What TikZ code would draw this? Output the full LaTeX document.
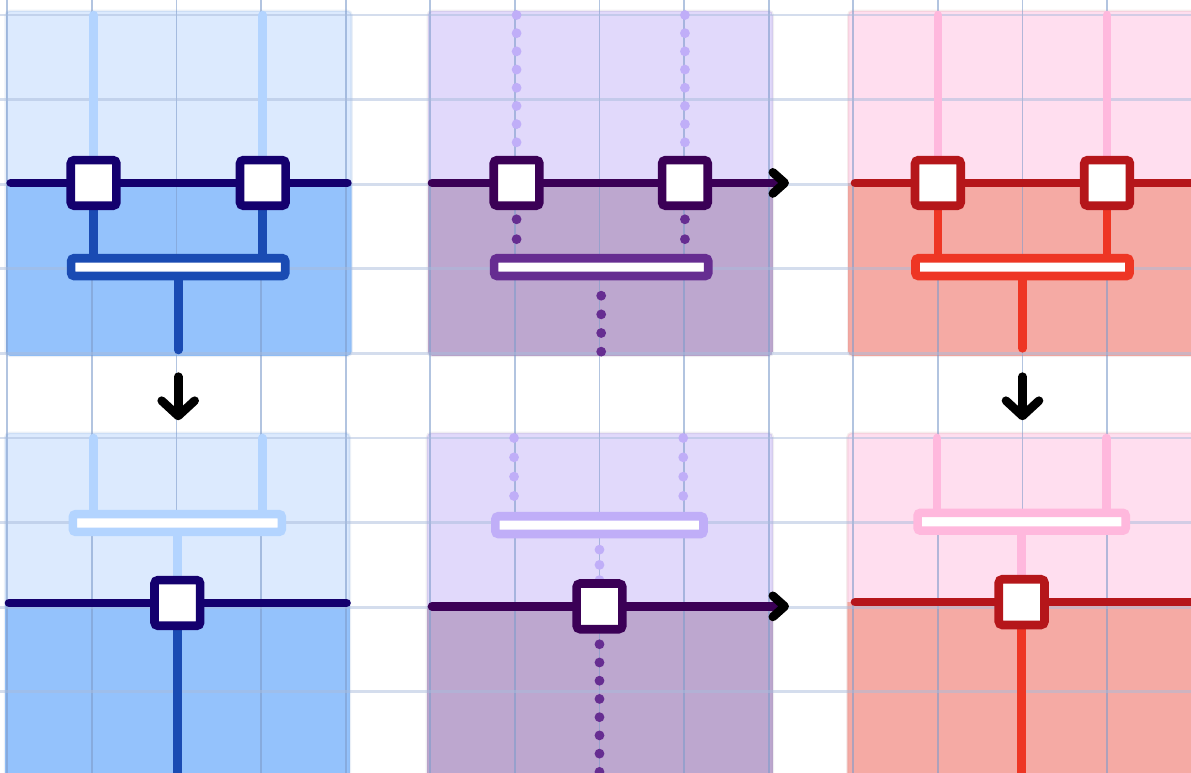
\documentclass[tikz,border=0pt]{standalone}
\usetikzlibrary{arrows.meta,calc}
\pgfdeclarelayer{bg}
\pgfsetlayers{bg,main}
% blue
\definecolor{bPL}{HTML}{DCEAFE}
\definecolor{bPD}{HTML}{94C2FC}
\definecolor{bU}{HTML}{B3D4FF}
\definecolor{bD}{HTML}{1A4BB3}
\definecolor{bW}{HTML}{14006E}
% purple
\definecolor{pPL}{HTML}{E1D9FB}
\definecolor{pPD}{HTML}{BDA7CF}
\definecolor{pU}{HTML}{C0AEF8}
\definecolor{pD}{HTML}{662D91}
\definecolor{pW}{HTML}{3B0056}
% red
\definecolor{rPL}{HTML}{FFDEEF}
\definecolor{rPD}{HTML}{F5AAA4}
\definecolor{rU}{HTML}{FFB8DD}
\definecolor{rD}{HTML}{EE3624}
\definecolor{rW}{HTML}{B5161A}
% grid
\definecolor{gridV}{HTML}{7F9CCB}
\definecolor{gridH}{HTML}{A9BCDC}
\tikzset{
  ln/.style={line width=2.9pt, line cap=round},
  sq/.style={draw, line width=2.9pt, fill=white, minimum width=0.54cm, minimum height=0.54cm, inner sep=0pt, rounded corners=1.2pt},
  barbox/.style={draw, line width=2.9pt, fill=white, minimum height=0.21cm, inner sep=0pt, rounded corners=1pt},
  dotln/.style={line width=3.3pt, line cap=round, dash pattern=on 0pt off #1},
  downflow/.style={line width=2.9pt, line cap=round, -{Straight Barb[length=1.8mm,width=3.9mm,round]}},
  rightflow/.style={-{Straight Barb[length=1.4mm,width=2.5mm,round,color=black]}},
  gv/.style={gridV, line width=0.6pt, opacity=0.6},
  gh/.style={gridH, line width=0.9pt, opacity=0.5},
  pborder/.style={rounded corners=1.5pt, line width=0.8pt, draw opacity=0.15},
}
% panel: x1 x2 ytop ysplit ybot light dark
\newcommand{\mypanel}[7]{%
  \begin{scope}
    \clip[rounded corners=1.5pt] (#1,#3) rectangle (#2,#5);
    \fill[#6] (#1,#3) rectangle (#2,#4);
    \fill[#7] (#1,#4) rectangle (#2,#5);
  \end{scope}
  \draw[pborder, draw=#7!80!black] (#1,#3) rectangle (#2,#5);
}
\begin{document}
\begin{tikzpicture}
\useasboundingbox (-0.0863,0.1773) rectangle (13.992,-8.960);

% ================= nodes (main layer) =================
% top blue
\node[sq, draw=bW] (b1) at (1.02,-1.985) {};
\node[sq, draw=bW] (b2) at (3.02,-1.985) {};
\node[barbox, draw=bD, minimum width=2.53cm] (bb) at (2.02,-2.98) {};
% bottom blue
\node[barbox, draw=bU, minimum width=2.47cm] (bb2) at (2.01,-6.005) {};
\node[sq, draw=bW] (b3) at (2.01,-6.95) {};
% top purple
\node[sq, draw=pW] (p1) at (6.02,-1.985) {};
\node[sq, draw=pW] (p2) at (8.01,-1.985) {};
\node[barbox, draw=pD, minimum width=2.53cm] (pb) at (7.02,-2.98) {};
% bottom purple
\node[barbox, draw=pU, minimum width=2.46cm] (pb2) at (7.0,-6.03) {};
\node[sq, draw=pW] (p3) at (7.0,-6.99) {};
% top red
\node[sq, draw=rW] (r1) at (11.0,-1.985) {};
\node[sq, draw=rW] (r2) at (13.0,-1.985) {};
\node[barbox, draw=rD, minimum width=2.53cm] (rb) at (12.0,-2.98) {};
% bottom red
\node[barbox, draw=rU, minimum width=2.46cm] (rb2) at (11.99,-5.99) {};
\node[sq, draw=rW] (r3) at (11.99,-6.94) {};

% free ends
\coordinate (bwl) at (0.04,-1.985);  \coordinate (bwr) at (4.02,-1.985);
\coordinate (bu1) at (1.02,0);       \coordinate (bu2) at (3.02,0);
\coordinate (bdn) at (2.02,-3.96);
\coordinate (ba1) at (2.02,-4.275);  \coordinate (ba2) at (2.02,-4.79);
\coordinate (bwl2) at (0.02,-6.95);  \coordinate (bwr2) at (4.01,-6.95);
\coordinate (bu3) at (1.016,-5.0);   \coordinate (bu4) at (3.014,-5.0);
\coordinate (bdn2) at (2.01,-9.2);

\coordinate (pwl) at (5.02,-1.985);  \coordinate (pwr) at (9.24,-1.985);
\coordinate (pu1) at (6.02,0);       \coordinate (pu2) at (8.01,0);
\coordinate (pd1s) at (6.02,-2.415); \coordinate (pd1e) at (6.02,-2.65);
\coordinate (pd2s) at (8.01,-2.415); \coordinate (pd2e) at (8.01,-2.65);
\coordinate (pd3s) at (7.02,-3.318); \coordinate (pd3e) at (7.02,-3.98);
\coordinate (pwl2) at (5.02,-6.99);  \coordinate (pwr2) at (9.24,-6.99);
\coordinate (pu3s) at (5.99,-5.0);   \coordinate (pu3e) at (5.99,-5.686);
\coordinate (pu4s) at (7.99,-5.0);   \coordinate (pu4e) at (7.99,-5.686);
\coordinate (pm1s) at (7.0,-6.32);   \coordinate (pm1e) at (7.0,-6.68);
\coordinate (pd4s) at (7.0,-7.438);  \coordinate (pd4e) at (7.0,-9.2);

\coordinate (rwl) at (10.02,-1.985); \coordinate (rwr) at (14.3,-1.985);
\coordinate (ru1) at (11.0,0);       \coordinate (ru2) at (13.0,0);
\coordinate (rdn) at (12.0,-3.94);
\coordinate (ra1) at (12.0,-4.275);  \coordinate (ra2) at (12.0,-4.79);
\coordinate (rwl2) at (10.02,-6.94); \coordinate (rwr2) at (14.3,-6.94);
\coordinate (ru3) at (10.99,-5.0);   \coordinate (ru4) at (12.99,-5.0);
\coordinate (rdn2) at (11.99,-9.2);

\begin{pgfonlayer}{bg}
% ---------- panels ----------
\mypanel{-0.02}{4.07}{0.05}{-1.985}{-4.03}{bPL}{bPD}
\mypanel{4.97}{9.05}{0.05}{-1.985}{-4.03}{pPL}{pPD}
\mypanel{9.94}{14.3}{0.05}{-1.985}{-4.03}{rPL}{rPD}
\mypanel{-0.025}{4.05}{-4.94}{-6.95}{-9.3}{bPL}{bPD}
\mypanel{4.96}{9.05}{-4.94}{-6.99}{-9.3}{pPL}{pPD}
\mypanel{9.93}{14.3}{-4.94}{-6.94}{-9.3}{rPL}{rPD}

% ---------- grid ----------
\foreach \i in {0,...,14} \draw[gv] (\i,0.3) -- (\i,-9.3);
\foreach \j in {0,...,9} \draw[gh] (-0.2,-\j) -- (14.3,-\j);

% ---------- blue top ----------
\draw[ln, bU] (bu1) -- (b1);
\draw[ln, bU] (bu2) -- (b2);
\draw[ln, bD] (b1) -- (b1 |- bb);
\draw[ln, bD] (b2) -- (b2 |- bb);
\draw[ln, bD] (bb) -- (bdn);
\draw[ln, bW] (bwl) -- (b1) -- (b2) -- (bwr);
\draw[downflow] (ba1) -- (ba2);
% ---------- blue bottom ----------
\draw[ln, bU] (bu3) -- (bu3 |- bb2);
\draw[ln, bU] (bu4) -- (bu4 |- bb2);
\draw[ln, bU] (bb2) -- (b3);
\draw[ln, bD] (b3) -- (bdn2);
\draw[ln, bW] (bwl2) -- (b3) -- (bwr2);

% ---------- purple top ----------
\draw[dotln=0.215cm, pU] (pu1) -- (p1);
\draw[dotln=0.215cm, pU] (pu2) -- (p2);
\draw[dotln=0.2349cm, pD] (pd1s) -- (pd1e);
\draw[dotln=0.2349cm, pD] (pd2s) -- (pd2e);
\draw[dotln=0.2205cm, pD] (pd3s) -- (pd3e);
\draw[ln, pW, rightflow] (pwl) -- (p1) -- (p2) -- (pwr);
% ---------- purple bottom ----------
\draw[dotln=0.2285cm, pU] (pu3s) -- (pu3e);
\draw[dotln=0.2285cm, pU] (pu4s) -- (pu4e);
\draw[dotln=0.1799cm, pU] (pm1s) -- (pm1e);
\draw[dotln=0.2155cm, pD] (pd4s) -- (pd4e);
\draw[ln, pW, rightflow] (pwl2) -- (p3) -- (pwr2);

% ---------- red top ----------
\draw[ln, rU] (ru1) -- (r1);
\draw[ln, rU] (ru2) -- (r2);
\draw[ln, rD] (r1) -- (r1 |- rb);
\draw[ln, rD] (r2) -- (r2 |- rb);
\draw[ln, rD] (rb) -- (rdn);
\draw[ln, rW] (rwl) -- (r1) -- (r2) -- (rwr);
\draw[downflow] (ra1) -- (ra2);
% ---------- red bottom ----------
\draw[ln, rU] (ru3) -- (ru3 |- rb2);
\draw[ln, rU] (ru4) -- (ru4 |- rb2);
\draw[ln, rU] (rb2) -- (r3);
\draw[ln, rD] (r3) -- (rdn2);
\draw[ln, rW] (rwl2) -- (r3) -- (rwr2);
\end{pgfonlayer}
\end{tikzpicture}
\end{document}
